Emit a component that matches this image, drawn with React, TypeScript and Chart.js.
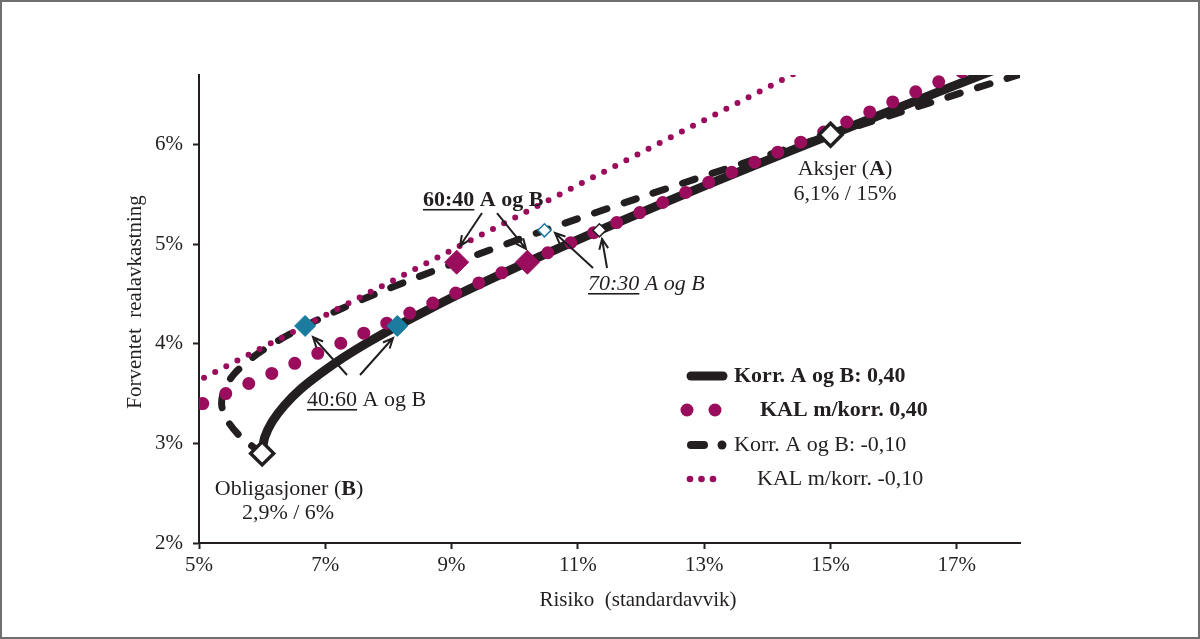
import React, { useEffect, useRef } from 'react';
import { Chart, registerables } from 'chart.js';

Chart.register(...registerables);

// ---------- data ----------
const xTickValues = [5, 7, 9, 11, 13, 15, 17];
const yTickValues = [2, 3, 4, 5, 6];

// Efficient frontier, correlation A/B = 0.40 (risk %, return %)
const corr040Risk = [6.0, 6.04, 6.16, 6.35, 6.6, 6.92, 7.28, 7.69, 8.14, 8.62, 9.12, 9.65, 10.2, 11.34, 12.53, 13.75, 15.0, 16.27, 17.55];
const corr040Return = [2.9, 3.06, 3.22, 3.38, 3.54, 3.7, 3.86, 4.02, 4.18, 4.34, 4.5, 4.66, 4.82, 5.14, 5.46, 5.78, 6.1, 6.42, 6.74];

// Efficient frontier, correlation A/B = -0.10
const corrNeg010Risk = [6.0, 5.67, 5.46, 5.36, 5.4, 5.56, 5.84, 6.22, 6.68, 7.21, 7.79, 8.42, 9.08, 10.47, 11.94, 13.45, 15.0, 16.57, 18.16];
const corrNeg010Return = [2.9, 3.06, 3.22, 3.38, 3.54, 3.7, 3.86, 4.02, 4.18, 4.34, 4.5, 4.66, 4.82, 5.14, 5.46, 5.78, 6.1, 6.42, 6.74];

// Capital allocation lines (KAL)
const kal040Risk = [5.06, 17.5];
const kal040Return = [3.4, 6.85];
const kalNeg010Risk = [5.08, 14.6];
const kalNeg010Return = [3.66, 6.77];

// Marked portfolios
const endpointRisk = [6.0, 15.0];
const endpointReturn = [2.9, 6.1];
const mix4060Risk = [6.68, 8.14];
const mix4060Return = [4.18, 4.18];
const mix6040Risk = [9.08, 10.2];
const mix6040Return = [4.82, 4.82];
const mix7030NegRisk = [10.47];
const mix7030NegReturn = [5.14];
const mix7030PosRisk = [11.34];
const mix7030PosReturn = [5.14];

// ---------- styles ----------
const DARK = '#231f20';
const MAGENTA = '#9a0d5c';
const BLUE = '#1b7ca0';
const FONT = '"Liberation Serif", "Times New Roman", serif';

const pts = (xs: number[], ys: number[]) => xs.map((x, i) => ({ x, y: ys[i] }));

type Seg = { t: string; b?: boolean; i?: boolean; u?: boolean };
const fontFor = (s: Seg, size: number) =>
  `${s.i ? 'italic ' : ''}${s.b ? 'bold ' : ''}${size}px ${FONT}`;

function drawRich(ctx: CanvasRenderingContext2D, segs: Seg[], x: number, y: number, size: number, align: 'left' | 'center') {
  const widths = segs.map((s) => {
    ctx.font = fontFor(s, size);
    return ctx.measureText(s.t).width;
  });
  const total = widths.reduce((a, b) => a + b, 0);
  let cx = align === 'center' ? x - total / 2 : x;
  ctx.textAlign = 'left';
  ctx.textBaseline = 'alphabetic';
  segs.forEach((s, k) => {
    ctx.font = fontFor(s, size);
    ctx.fillText(s.t, cx, y);
    if (s.u) ctx.fillRect(cx, y + 3, widths[k], 1.6);
    cx += widths[k];
  });
}

function arrow(ctx: CanvasRenderingContext2D, x1: number, y1: number, x2: number, y2: number) {
  const ang = Math.atan2(y2 - y1, x2 - x1);
  const L = 11;
  const a = 0.42;
  ctx.beginPath();
  ctx.moveTo(x1, y1);
  ctx.lineTo(x2, y2);
  ctx.moveTo(x2 - L * Math.cos(ang - a), y2 - L * Math.sin(ang - a));
  ctx.lineTo(x2, y2);
  ctx.lineTo(x2 - L * Math.cos(ang + a), y2 - L * Math.sin(ang + a));
  ctx.stroke();
}

const annotations: { x: number; y: number; align: 'left' | 'center'; segs: Seg[] }[] = [
  { x: 15.23, y: 5.7, align: 'center', segs: [{ t: 'Aksjer (' }, { t: 'A', b: true }, { t: ')' }] },
  { x: 15.23, y: 5.445, align: 'center', segs: [{ t: '6,1% / 15%' }] },
  { x: 6.425, y: 2.482, align: 'center', segs: [{ t: 'Obligasjoner (' }, { t: 'B', b: true }, { t: ')' }] },
  { x: 6.41, y: 2.241, align: 'center', segs: [{ t: '2,9% / 6%' }] },
  { x: 8.547, y: 5.385, align: 'left', segs: [{ t: '60:40', b: true, u: true }, { t: ' A og B', b: true }] },
  { x: 11.16, y: 4.541, align: 'left', segs: [{ t: '70:30', i: true, u: true }, { t: ' A og B', i: true }] },
  { x: 6.71, y: 3.376, align: 'left', segs: [{ t: '40:60', u: true }, { t: ' A og B' }] },
];

const arrows: [number, number, number, number][] = [
  [9.481, 5.314, 9.133, 4.983],
  [9.719, 5.314, 10.178, 4.953],
  [11.239, 4.762, 10.637, 5.113],
  [11.461, 4.762, 11.382, 5.053],
  [7.344, 3.687, 6.805, 4.069],
  [7.549, 3.687, 8.072, 4.059],
];

const overlayPlugin = {
  id: 'overlay',
  afterDraw(chart: any) {
    const ctx: CanvasRenderingContext2D = chart.ctx;
    const xs = chart.scales.x;
    const ys = chart.scales.y;
    ctx.save();
    ctx.fillStyle = DARK;
    ctx.strokeStyle = DARK;

    // annotations
    annotations.forEach((a) => {
      drawRich(ctx, a.segs, xs.getPixelForValue(a.x), ys.getPixelForValue(a.y), 22, a.align);
    });
    ctx.lineWidth = 2;
    ctx.lineCap = 'butt';
    arrows.forEach(([x1, y1, x2, y2]) => {
      arrow(ctx, xs.getPixelForValue(x1), ys.getPixelForValue(y1), xs.getPixelForValue(x2), ys.getPixelForValue(y2));
    });

    // axis titles
    ctx.font = `21px ${FONT}`;
    ctx.textAlign = 'center';
    ctx.textBaseline = 'middle';
    ctx.fillText('Risiko  (standardavvik)', 638, 600);
    ctx.save();
    ctx.translate(135, 302);
    ctx.rotate(-Math.PI / 2);
    ctx.fillText('Forventet  realavkastning', 0, 0);
    ctx.restore();

    // legend
    ctx.lineCap = 'round';
    ctx.strokeStyle = DARK;
    ctx.lineWidth = 9;
    ctx.beginPath();
    ctx.moveTo(691, 376);
    ctx.lineTo(723, 376);
    ctx.stroke();
    ctx.fillStyle = MAGENTA;
    [687, 715].forEach((cx) => {
      ctx.beginPath();
      ctx.arc(cx, 410, 6.5, 0, Math.PI * 2);
      ctx.fill();
    });
    ctx.lineWidth = 8;
    ctx.beginPath();
    ctx.moveTo(691, 445);
    ctx.lineTo(704, 445);
    ctx.stroke();
    ctx.fillStyle = DARK;
    ctx.beginPath();
    ctx.arc(722, 445, 4.5, 0, Math.PI * 2);
    ctx.fill();
    ctx.fillStyle = MAGENTA;
    [690, 701.5, 713].forEach((cx) => {
      ctx.beginPath();
      ctx.arc(cx, 479, 3.3, 0, Math.PI * 2);
      ctx.fill();
    });
    ctx.fillStyle = DARK;
    ctx.textAlign = 'left';
    ctx.textBaseline = 'middle';
    ctx.font = `bold 22px ${FONT}`;
    ctx.fillText('Korr. A og B: 0,40', 734, 376);
    ctx.fillText('KAL m/korr. 0,40', 760, 410);
    ctx.font = `22px ${FONT}`;
    ctx.fillText('Korr. A og B: -0,10', 734, 445);
    ctx.fillText('KAL m/korr. -0,10', 757, 479);

    // frame
    ctx.strokeStyle = '#707070';
    ctx.lineWidth = 2;
    ctx.strokeRect(1, 1, chart.width - 2, chart.height - 2);
    ctx.restore();
  },
};

export default function App() {
  const canvasRef = useRef<HTMLCanvasElement | null>(null);

  useEffect(() => {
    document.body.style.margin = '0';
    const canvas = canvasRef.current;
    if (!canvas) return;

    const lineDs = (label: string, data: any[], color: string, width: number, dash: number[], cap: CanvasLineCap, order: number, tension = 0.3) => ({
      label,
      data,
      showLine: true,
      borderColor: color,
      backgroundColor: color,
      borderWidth: width,
      borderDash: dash,
      borderCapStyle: cap,
      borderJoinStyle: 'round' as CanvasLineJoin,
      pointRadius: 0,
      tension,
      fill: false,
      order,
    });

    const markerDs = (label: string, data: any[], fill: string, border: string, radius: number, bw: number, order: number) => ({
      label,
      data,
      showLine: false,
      pointStyle: 'rectRot',
      pointRadius: radius,
      pointBackgroundColor: fill,
      pointBorderColor: border,
      pointBorderWidth: bw,
      order,
    });

    const chart = new Chart(canvas, {
      type: 'scatter',
      data: {
        datasets: [
          markerDs('Aksjer / Obligasjoner', pts(endpointRisk, endpointReturn), '#ffffff', DARK, 11.5, 3.5, 0),
          markerDs('40:60', pts(mix4060Risk, mix4060Return), BLUE, BLUE, 10.5, 1, 0),
          markerDs('60:40', pts(mix6040Risk, mix6040Return), MAGENTA, MAGENTA, 12, 1, 0),
          markerDs('70:30 (-0,10)', pts(mix7030NegRisk, mix7030NegReturn), '#ffffff', BLUE, 6.5, 1.5, 0),
          markerDs('70:30 (0,40)', pts(mix7030PosRisk, mix7030PosReturn), '#ffffff', DARK, 6.5, 1.5, 0),
          lineDs('KAL m/korr. -0,10', pts(kalNeg010Risk, kalNeg010Return), MAGENTA, 6, [0, 12.5], 'round', 1, 0),
          lineDs('KAL m/korr. 0,40', pts(kal040Risk, kal040Return), MAGENTA, 13, [0, 25.1], 'round', 2, 0),
          lineDs('Korr. A og B: -0,10', pts(corrNeg010Risk, corrNeg010Return), DARK, 7, [13, 18], 'round', 3),
          lineDs('Korr. A og B: 0,40', pts(corr040Risk, corr040Return), DARK, 9, [], 'round', 4),
        ] as any,
      },
      options: {
        animation: false,
        responsive: true,
        maintainAspectRatio: false,
        events: [],
        layout: { padding: { top: 75, right: 180, left: 0, bottom: 0 } },
        plugins: {
          legend: { display: false },
          tooltip: { enabled: false },
          title: { display: false },
        },
        scales: {
          x: {
            type: 'linear',
            min: 5,
            max: 18,
            afterBuildTicks: (axis: any) => {
              axis.ticks = xTickValues.map((v) => ({ value: v }));
            },
            afterFit: (axis: any) => {
              axis.height = 96;
            },
            grid: { display: true, drawOnChartArea: false, drawTicks: true, tickLength: 6, tickWidth: 2, tickColor: DARK },
            border: { display: true, color: DARK, width: 2 },
            ticks: {
              callback: (v: any) => `${v}%`,
              font: { family: FONT, size: 21 },
              color: DARK,
              padding: 4,
              maxRotation: 0,
              autoSkip: false,
            },
          },
          y: {
            type: 'linear',
            min: 2,
            max: 6.7,
            afterBuildTicks: (axis: any) => {
              axis.ticks = yTickValues.map((v) => ({ value: v }));
            },
            afterFit: (axis: any) => {
              axis.width = 199;
            },
            grid: { display: true, drawOnChartArea: false, drawTicks: true, tickLength: 6, tickWidth: 2, tickColor: DARK },
            border: { display: true, color: DARK, width: 2 },
            ticks: {
              callback: (v: any) => `${v}%`,
              font: { family: FONT, size: 21 },
              color: DARK,
              padding: 10,
              autoSkip: false,
            },
          },
        },
      } as any,
      plugins: [overlayPlugin],
    });

    return () => chart.destroy();
  }, []);

  return (
    <div style={{ position: 'absolute', left: 0, top: 0, width: 1200, height: 639, background: '#ffffff' }}>
      <canvas ref={canvasRef} />
    </div>
  );
}
